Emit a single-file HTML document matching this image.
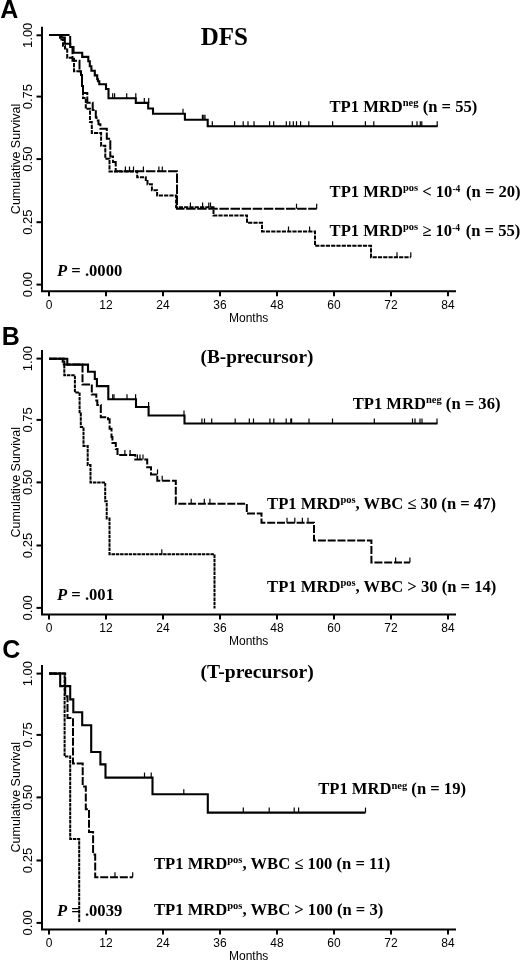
<!DOCTYPE html>
<html><head><meta charset="utf-8"><style>
html,body{margin:0;padding:0;background:#fff;width:520px;height:960px;overflow:hidden}
svg{display:block;filter:grayscale(1)}
.ax{fill:none;stroke:#000;stroke-width:2}
.sol{fill:none;stroke:#000;stroke-width:2.1}
.ld{fill:none;stroke:#000;stroke-width:2;stroke-dasharray:9.5 1.6}
.md{fill:none;stroke:#000;stroke-width:2;stroke-dasharray:8 1.8}
.sd{fill:none;stroke:#000;stroke-width:2;stroke-dasharray:4.2 1.1}
.dt{fill:none;stroke:#000;stroke-width:2;stroke-dasharray:3.5 0.8}
.dt2{fill:none;stroke:#000;stroke-width:2;stroke-dasharray:5.5 1.5}
.tk{fill:none;stroke:#000;stroke-width:1.2}
text{fill:#000}
.tl{font-family:"Liberation Sans",sans-serif;font-size:12px}
.yl{font-family:"Liberation Sans",sans-serif;font-size:13px}
.yt{font-family:"Liberation Sans",sans-serif;font-size:12.5px}
.mo{font-family:"Liberation Sans",sans-serif;font-size:12px}
.lab{font-family:"Liberation Serif",serif;font-weight:bold;font-size:16.6px}
.sup{font-size:10.5px}
.sup2{font-size:9.5px}
.big{font-family:"Liberation Serif",serif;font-weight:bold;font-size:25px}
.big2{font-family:"Liberation Serif",serif;font-weight:bold;font-size:19.6px}
.pl{font-family:"Liberation Sans",sans-serif;font-weight:bold;font-size:25px}
</style></head><body>
<svg width="520" height="960" viewBox="0 0 520 960">
<path d="M42,26.7V291.2H456" class="ax"/>
<path d="M36.5,35.30H42" class="ax"/>
<text class="yl" transform="translate(32.2,35.30) rotate(-90)" text-anchor="middle">1.00</text>
<path d="M36.5,96.60H42" class="ax"/>
<text class="yl" transform="translate(32.2,96.60) rotate(-90)" text-anchor="middle">0.75</text>
<path d="M36.5,159.10H42" class="ax"/>
<text class="yl" transform="translate(32.2,159.10) rotate(-90)" text-anchor="middle">0.50</text>
<path d="M36.5,222.20H42" class="ax"/>
<text class="yl" transform="translate(32.2,222.20) rotate(-90)" text-anchor="middle">0.25</text>
<path d="M36.5,284.60H42" class="ax"/>
<text class="yl" transform="translate(32.2,284.60) rotate(-90)" text-anchor="middle">0.00</text>
<path d="M49,291.2V296.3" class="ax"/>
<text class="tl" x="49" y="309.0" text-anchor="middle">0</text>
<path d="M106,291.2V296.3" class="ax"/>
<text class="tl" x="106" y="309.0" text-anchor="middle">12</text>
<path d="M163,291.2V296.3" class="ax"/>
<text class="tl" x="163" y="309.0" text-anchor="middle">24</text>
<path d="M220,291.2V296.3" class="ax"/>
<text class="tl" x="220" y="309.0" text-anchor="middle">36</text>
<path d="M277,291.2V296.3" class="ax"/>
<text class="tl" x="277" y="309.0" text-anchor="middle">48</text>
<path d="M334,291.2V296.3" class="ax"/>
<text class="tl" x="334" y="309.0" text-anchor="middle">60</text>
<path d="M391,291.2V296.3" class="ax"/>
<text class="tl" x="391" y="309.0" text-anchor="middle">72</text>
<path d="M448,291.2V296.3" class="ax"/>
<text class="tl" x="448" y="309.0" text-anchor="middle">84</text>
<text class="mo" x="248.7" y="321.5" text-anchor="middle">Months</text>
<text class="yt" transform="translate(19.6,158.9) rotate(-90)" text-anchor="middle">Cumulative Survival</text>
<path d="M49.0,35.0 61.6,35.0 61.6,37.5 64.8,37.5 64.8,43.8 70.2,43.8 70.2,47.0 73.5,47.0 73.5,52.7 82.2,52.7 82.2,56.9 88.3,56.9 88.3,61.2 89.8,61.2 89.8,66.2 91.4,66.2 91.4,70.8 94.8,70.8 94.8,75.4 97.2,75.4 97.2,79.2 98.0,79.2 98.0,81.3 99.3,81.3 99.3,84.2 106.0,84.2 106.0,89.0 108.5,89.0 108.5,98.2 135.8,98.2 135.8,102.9 148.2,102.9 148.2,108.5 153.0,108.5 153.0,113.8 184.9,113.8 184.9,119.7 207.7,119.7 207.7,126.2 437.7,126.2" class="sol"/>
<path d="M112.7,98.2v-5" class="tk"/><path d="M114.6,98.2v-5" class="tk"/><path d="M126.7,98.2v-5" class="tk"/><path d="M135.8,98.2v-5" class="tk"/>
<path d="M144.3,102.9v-5" class="tk"/><path d="M148.7,102.9v-5" class="tk"/>
<path d="M183.0,113.8v-5" class="tk"/>
<path d="M202.4,119.7v-5" class="tk"/><path d="M203.8,119.7v-5" class="tk"/><path d="M205.0,119.7v-5" class="tk"/>
<path d="M212.3,126.2v-5" class="tk"/><path d="M234.6,126.2v-5" class="tk"/><path d="M243.2,126.2v-5" class="tk"/><path d="M248.0,126.2v-5" class="tk"/><path d="M254.0,126.2v-5" class="tk"/><path d="M269.6,126.2v-5" class="tk"/><path d="M273.7,126.2v-5" class="tk"/><path d="M286.3,126.2v-5" class="tk"/><path d="M289.8,126.2v-5" class="tk"/><path d="M293.3,126.2v-5" class="tk"/><path d="M296.5,126.2v-5" class="tk"/><path d="M300.6,126.2v-5" class="tk"/><path d="M308.8,126.2v-5" class="tk"/><path d="M332.6,126.2v-5" class="tk"/><path d="M365.4,126.2v-5" class="tk"/><path d="M373.8,126.2v-5" class="tk"/><path d="M412.3,126.2v-5" class="tk"/><path d="M417.0,126.2v-5" class="tk"/><path d="M420.3,126.2v-5" class="tk"/><path d="M421.8,126.2v-5" class="tk"/><path d="M437.2,126.2v-5" class="tk"/>
<path d="M49.0,35.0 70.2,35.0 70.2,47.0 72.5,47.0 72.5,60.8 79.5,60.8 79.5,71.2 81.0,71.2 81.0,75.0 82.0,75.0 82.0,86.0 83.0,86.0 83.0,93.0 87.3,93.0 87.3,102.7 92.7,102.7 92.7,110.0 95.8,110.0 95.8,117.3 96.5,117.3 96.5,120.4 98.5,120.4 98.5,124.2 100.4,124.2 100.4,128.8 106.8,128.8 106.8,138.8 110.3,138.8 110.3,156.5 113.0,156.5 113.0,162.0 115.7,162.0 115.7,171.2 177.0,171.2 177.0,208.7 316.7,208.7" class="ld"/>
<path d="M125.4,171.5v-5" class="tk"/><path d="M129.5,171.5v-5" class="tk"/><path d="M133.5,171.5v-5" class="tk"/><path d="M143.4,171.5v-5" class="tk"/><path d="M158.9,171.5v-5" class="tk"/><path d="M162.3,171.5v-5" class="tk"/>
<path d="M296.5,208.7v-5" class="tk"/><path d="M316.7,208.7v-5" class="tk"/>
<path d="M49.0,35.0 60.0,35.0 60.0,39.5 63.0,39.5 63.0,45.7 65.0,45.7 65.0,48.5 67.2,48.5 67.2,57.7 74.0,57.7 74.0,71.2 81.0,71.2 81.0,75.0 82.0,75.0 82.0,86.0 83.0,86.0 83.0,98.0 85.8,98.0 85.8,108.8 90.0,108.8 90.0,122.0 91.8,122.0 91.8,133.1 101.1,133.1 101.1,145.8 105.3,145.8 105.3,158.8 109.5,158.8 109.5,171.5 137.2,171.5 137.2,177.3 145.8,177.3 145.8,181.0 147.5,181.0 147.5,184.2 151.9,184.2 151.9,190.3 157.1,190.3 157.1,195.5 176.1,195.5 176.1,207.3 213.5,207.3 213.5,215.4 247.0,215.4 247.0,222.8 262.0,222.8 262.0,231.5 315.0,231.5 315.0,245.8 371.0,245.8 371.0,257.3 410.8,257.3" class="sd"/>
<path d="M190.4,207.5v-5" class="tk"/><path d="M202.6,207.5v-5" class="tk"/><path d="M208.8,207.5v-5" class="tk"/><path d="M210.5,207.5v-5" class="tk"/>
<path d="M288.5,231.5v-5" class="tk"/><path d="M309.6,231.5v-5" class="tk"/>
<path d="M397.0,257.3v-5" class="tk"/><path d="M410.8,257.3v-5" class="tk"/>
<text class="big" x="200.7" y="44.8">DFS</text>
<text class="lab" x="329.5" y="111.7">TP1 MRD<tspan class="sup" dy="-5.5">neg</tspan><tspan dy="5.5"> (n = 55)</tspan></text>
<text class="lab" x="329.6" y="196.9">TP1 MRD<tspan class="sup" dy="-5.5">pos</tspan><tspan dy="5.5"> &lt; 10</tspan><tspan class="sup2" dy="-5.2">-4</tspan><tspan dy="5.2" dx="1.5"> (n = 20)</tspan></text>
<text class="lab" x="329.6" y="235.7">TP1 MRD<tspan class="sup" dy="-5.5">pos</tspan><tspan dy="5.5"> &#8805; 10</tspan><tspan class="sup2" dy="-5.2">-4</tspan><tspan dy="5.2" dx="1.5"> (n = 55)</tspan></text>
<text class="lab" x="57" y="276.3"><tspan font-style="italic">P</tspan> = .0000</text>
<text class="pl" x="0.3" y="17.6">A</text>
<path d="M42,350.0V614.5H456" class="ax"/>
<path d="M36.5,358.60H42" class="ax"/>
<text class="yl" transform="translate(32.2,358.60) rotate(-90)" text-anchor="middle">1.00</text>
<path d="M36.5,419.90H42" class="ax"/>
<text class="yl" transform="translate(32.2,419.90) rotate(-90)" text-anchor="middle">0.75</text>
<path d="M36.5,482.40H42" class="ax"/>
<text class="yl" transform="translate(32.2,482.40) rotate(-90)" text-anchor="middle">0.50</text>
<path d="M36.5,545.50H42" class="ax"/>
<text class="yl" transform="translate(32.2,545.50) rotate(-90)" text-anchor="middle">0.25</text>
<path d="M36.5,607.90H42" class="ax"/>
<text class="yl" transform="translate(32.2,607.90) rotate(-90)" text-anchor="middle">0.00</text>
<path d="M49,614.5V619.6" class="ax"/>
<text class="tl" x="49" y="632.3" text-anchor="middle">0</text>
<path d="M106,614.5V619.6" class="ax"/>
<text class="tl" x="106" y="632.3" text-anchor="middle">12</text>
<path d="M163,614.5V619.6" class="ax"/>
<text class="tl" x="163" y="632.3" text-anchor="middle">24</text>
<path d="M220,614.5V619.6" class="ax"/>
<text class="tl" x="220" y="632.3" text-anchor="middle">36</text>
<path d="M277,614.5V619.6" class="ax"/>
<text class="tl" x="277" y="632.3" text-anchor="middle">48</text>
<path d="M334,614.5V619.6" class="ax"/>
<text class="tl" x="334" y="632.3" text-anchor="middle">60</text>
<path d="M391,614.5V619.6" class="ax"/>
<text class="tl" x="391" y="632.3" text-anchor="middle">72</text>
<path d="M448,614.5V619.6" class="ax"/>
<text class="tl" x="448" y="632.3" text-anchor="middle">84</text>
<text class="mo" x="248.7" y="644.8" text-anchor="middle">Months</text>
<text class="yt" transform="translate(19.6,482.2) rotate(-90)" text-anchor="middle">Cumulative Survival</text>
<path d="M49.0,358.7 67.3,358.7 67.3,364.6 88.0,364.6 88.0,371.8 94.8,371.8 94.8,379.0 96.9,379.0 96.9,386.1 108.3,386.1 108.3,399.2 136.0,399.2 136.0,407.0 148.6,407.0 148.6,415.5 184.5,415.5 184.5,423.5 437.5,423.5" class="sol"/>
<path d="M112.7,399.2v-5" class="tk"/><path d="M114.0,399.2v-5" class="tk"/><path d="M127.0,399.2v-5" class="tk"/><path d="M135.6,399.2v-5" class="tk"/>
<path d="M184.0,415.5v-5" class="tk"/>
<path d="M201.9,423.5v-5" class="tk"/><path d="M204.5,423.5v-5" class="tk"/><path d="M211.7,423.5v-5" class="tk"/><path d="M235.2,423.5v-5" class="tk"/><path d="M249.3,423.5v-5" class="tk"/><path d="M253.5,423.5v-5" class="tk"/><path d="M269.9,423.5v-5" class="tk"/><path d="M273.8,423.5v-5" class="tk"/><path d="M286.2,423.5v-5" class="tk"/><path d="M290.8,423.5v-5" class="tk"/><path d="M291.6,423.5v-5" class="tk"/><path d="M309.0,423.5v-5" class="tk"/><path d="M332.5,423.5v-5" class="tk"/><path d="M374.3,423.5v-5" class="tk"/><path d="M412.5,423.5v-5" class="tk"/><path d="M415.0,423.5v-5" class="tk"/><path d="M420.0,423.5v-5" class="tk"/><path d="M422.0,423.5v-5" class="tk"/><path d="M437.0,423.5v-5" class="tk"/>
<path d="M148.6,407.0v-5" class="tk"/>
<path d="M49.0,358.7 62.7,358.7 62.7,364.6 82.5,364.6 82.5,384.5 91.8,384.5 91.8,394.6 96.3,394.6 96.3,400.4 97.3,400.4 97.3,405.0 100.8,405.0 100.8,417.3 108.0,417.3 108.0,419.2 109.6,419.2 109.6,428.8 111.5,428.8 111.5,437.0 112.4,437.0 112.4,443.0 115.8,443.0 115.8,449.0 117.5,449.0 117.5,455.1 135.3,455.1 135.3,459.4 147.2,459.4 147.2,467.3 151.0,467.3 151.0,474.4 157.3,474.4 157.3,480.8 175.8,480.8 175.8,503.8 246.8,503.8 246.8,513.5 261.5,513.5 261.5,522.7 314.0,522.7 314.0,540.6 371.4,540.6 371.4,562.5 409.9,562.5" class="md"/>
<path d="M124.9,455.1v-5" class="tk"/><path d="M130.1,455.1v-5" class="tk"/>
<path d="M137.4,459.4v-5" class="tk"/><path d="M140.0,459.4v-5" class="tk"/><path d="M143.0,459.4v-5" class="tk"/>
<path d="M157.5,474.4v-5" class="tk"/>
<path d="M162.2,480.8v-5" class="tk"/>
<path d="M191.2,503.8v-5" class="tk"/><path d="M204.3,503.8v-5" class="tk"/><path d="M209.9,503.8v-5" class="tk"/>
<path d="M287.0,522.7v-5" class="tk"/><path d="M294.8,522.7v-5" class="tk"/><path d="M302.4,522.7v-5" class="tk"/><path d="M308.0,522.7v-5" class="tk"/>
<path d="M395.6,562.5v-5" class="tk"/><path d="M409.9,562.5v-5" class="tk"/>
<path d="M49.0,358.7 64.3,358.7 64.3,375.2 74.9,375.2 74.9,392.5 79.6,392.5 79.6,413.5 80.8,413.5 80.8,427.0 83.5,427.0 83.5,446.0 87.7,446.0 87.7,465.0 90.5,465.0 90.5,482.5 105.2,482.5 105.2,501.3 106.7,501.3 106.7,518.6 109.5,518.6 109.5,554.2 214.5,554.2 214.5,608.6" class="dt"/>
<path d="M161.8,554.2v-5" class="tk"/>
<text class="big2" transform="translate(200.5,362.6) scale(0.982,1)">(B-precursor)</text>
<text class="lab" x="352.7" y="408.8">TP1 MRD<tspan class="sup" dy="-5.5">neg</tspan><tspan dy="5.5"> (n = 36)</tspan></text>
<text class="lab" x="267.1" y="508.6">TP1 MRD<tspan class="sup" dy="-5.5">pos</tspan><tspan dy="5.5">, WBC &#8804; 30 (n = 47)</tspan></text>
<text class="lab" x="267.1" y="591.9">TP1 MRD<tspan class="sup" dy="-5.5">pos</tspan><tspan dy="5.5">, WBC &gt; 30 (n = 14)</tspan></text>
<text class="lab" x="57" y="600.3"><tspan font-style="italic">P</tspan> = .001</text>
<text class="pl" x="1.7" y="344.5">B</text>
<path d="M42,665.0V929.5H456" class="ax"/>
<path d="M36.5,673.60H42" class="ax"/>
<text class="yl" transform="translate(32.2,673.60) rotate(-90)" text-anchor="middle">1.00</text>
<path d="M36.5,734.90H42" class="ax"/>
<text class="yl" transform="translate(32.2,734.90) rotate(-90)" text-anchor="middle">0.75</text>
<path d="M36.5,797.40H42" class="ax"/>
<text class="yl" transform="translate(32.2,797.40) rotate(-90)" text-anchor="middle">0.50</text>
<path d="M36.5,860.50H42" class="ax"/>
<text class="yl" transform="translate(32.2,860.50) rotate(-90)" text-anchor="middle">0.25</text>
<path d="M36.5,922.90H42" class="ax"/>
<text class="yl" transform="translate(32.2,922.90) rotate(-90)" text-anchor="middle">0.00</text>
<path d="M49,929.5V934.6" class="ax"/>
<text class="tl" x="49" y="947.3" text-anchor="middle">0</text>
<path d="M106,929.5V934.6" class="ax"/>
<text class="tl" x="106" y="947.3" text-anchor="middle">12</text>
<path d="M163,929.5V934.6" class="ax"/>
<text class="tl" x="163" y="947.3" text-anchor="middle">24</text>
<path d="M220,929.5V934.6" class="ax"/>
<text class="tl" x="220" y="947.3" text-anchor="middle">36</text>
<path d="M277,929.5V934.6" class="ax"/>
<text class="tl" x="277" y="947.3" text-anchor="middle">48</text>
<path d="M334,929.5V934.6" class="ax"/>
<text class="tl" x="334" y="947.3" text-anchor="middle">60</text>
<path d="M391,929.5V934.6" class="ax"/>
<text class="tl" x="391" y="947.3" text-anchor="middle">72</text>
<path d="M448,929.5V934.6" class="ax"/>
<text class="tl" x="448" y="947.3" text-anchor="middle">84</text>
<text class="mo" x="248.7" y="959.8" text-anchor="middle">Months</text>
<text class="yt" transform="translate(19.6,797.2) rotate(-90)" text-anchor="middle">Cumulative Survival</text>
<path d="M49.0,673.6 60.2,673.6 60.2,686.1 70.2,686.1 70.2,699.4 73.3,699.4 73.3,712.3 82.2,712.3 82.2,725.2 91.2,725.2 91.2,752.0 100.4,752.0 100.4,764.4 105.5,764.4 105.5,777.6 152.5,777.6 152.5,794.2 207.8,794.2 207.8,812.6 365.5,812.6" class="sol"/>
<path d="M144.5,777.6v-5" class="tk"/><path d="M151.2,777.6v-5" class="tk"/>
<path d="M183.8,794.2v-5" class="tk"/>
<path d="M243.3,812.6v-5" class="tk"/><path d="M269.2,812.6v-5" class="tk"/><path d="M294.2,812.6v-5" class="tk"/><path d="M298.6,812.6v-5" class="tk"/><path d="M365.5,812.6v-5" class="tk"/>
<path d="M49.0,673.6 65.2,673.6 65.2,696.2 67.5,696.2 67.5,718.0 73.0,718.0 73.0,763.5 82.7,763.5 82.7,786.5 85.8,786.5 85.8,809.3 89.0,809.3 89.0,832.0 93.1,832.0 93.1,854.5 95.2,854.5 95.2,877.2 132.7,877.2" class="md"/>
<path d="M115.0,877.2v-5" class="tk"/><path d="M132.7,877.2v-5" class="tk"/>
<path d="M49.0,673.6 64.6,673.6 64.6,756.6 70.2,756.6 70.2,839.0 79.2,839.0 79.2,922.7" class="dt"/>
<text class="big2" x="200.5" y="677.8">(T-precursor)</text>
<text class="lab" x="318.2" y="794.3">TP1 MRD<tspan class="sup" dy="-5.5">neg</tspan><tspan dy="5.5"> (n = 19)</tspan></text>
<text class="lab" x="154" y="868.6">TP1 MRD<tspan class="sup" dy="-5.5">pos</tspan><tspan dy="5.5">, WBC &#8804; 100 (n = 11)</tspan></text>
<text class="lab" x="154" y="914.6">TP1 MRD<tspan class="sup" dy="-5.5">pos</tspan><tspan dy="5.5">, WBC &gt; 100 (n = 3)</tspan></text>
<text class="lab" x="57" y="915.6"><tspan font-style="italic">P</tspan> = .0039</text>
<text class="pl" x="2.3" y="658">C</text>
</svg>
</body></html>
